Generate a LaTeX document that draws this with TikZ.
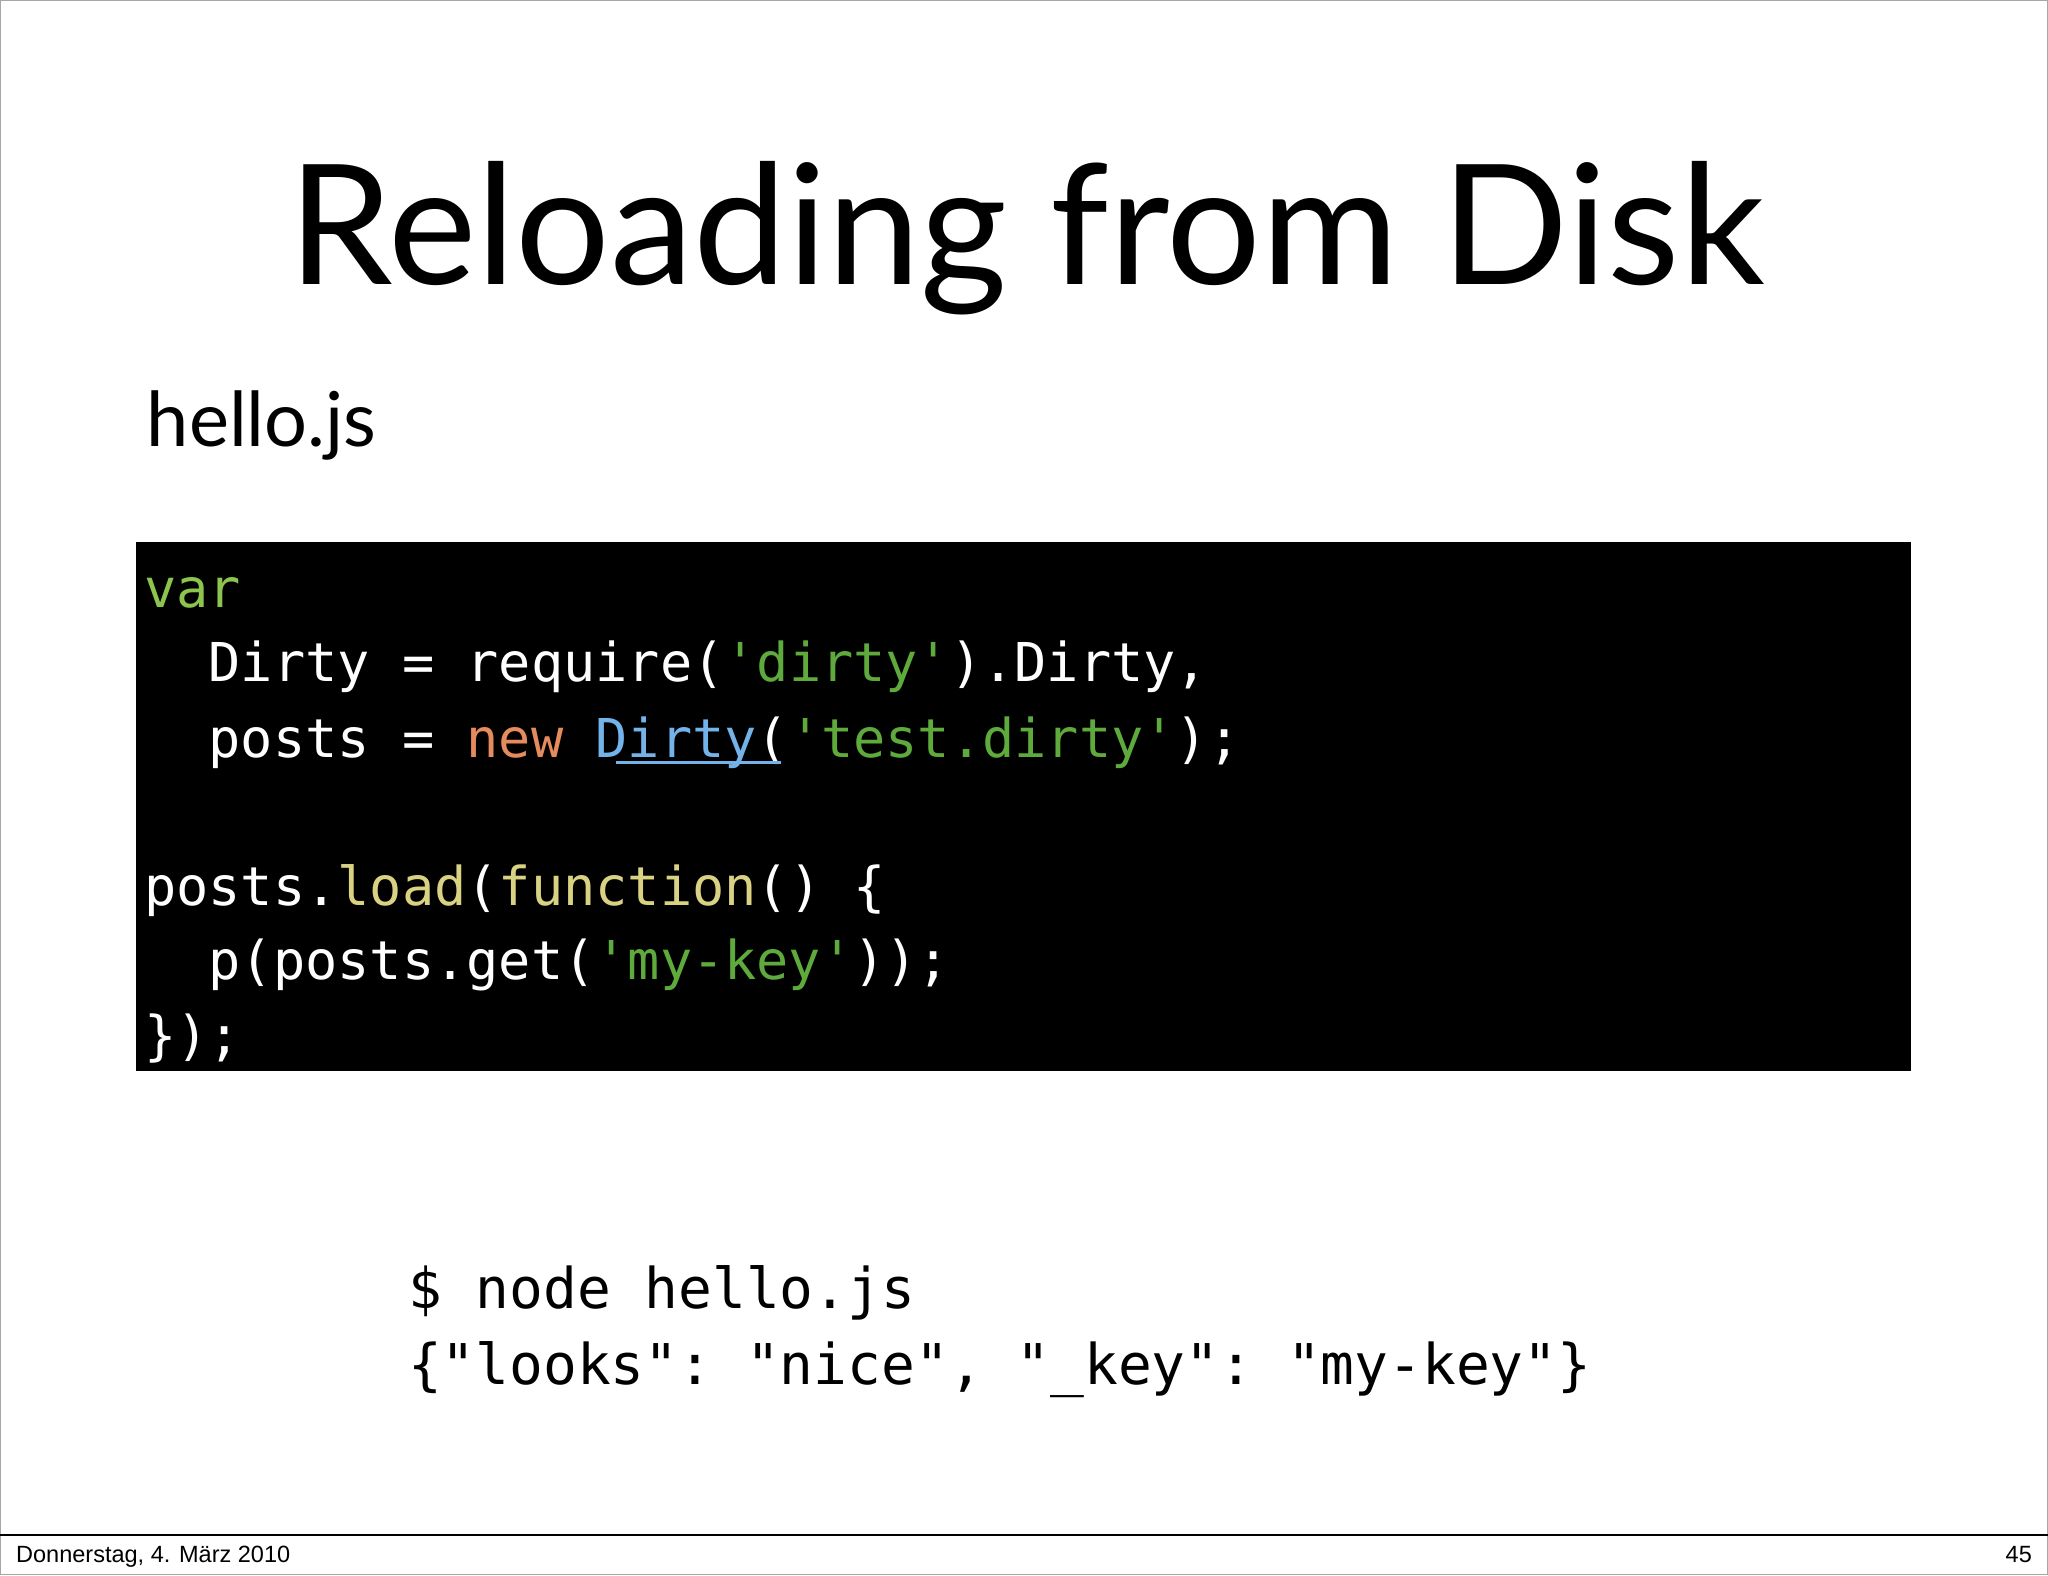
\documentclass[tikz,border=0pt]{standalone}
\usepackage{fontspec}
\setmainfont{Lato}
\setmonofont{DejaVu Sans Mono}
\newfontfamily\footfont{Liberation Sans}
\definecolor{cvar}{HTML}{8DC44E}
\definecolor{cstr}{HTML}{5FAA3C}
\definecolor{cnew}{HTML}{E58B5E}
\definecolor{cblu}{HTML}{74B2EA}
\definecolor{cfun}{HTML}{D9D283}
\begin{document}
\begin{tikzpicture}[x=0.5pt,y=-0.5pt,
  code/.style={anchor=base west,inner sep=0,text=white,font=\ttfamily\fontsize{20.5}{24}\selectfont},
  term/.style={anchor=base west,inner sep=0,text=black,font=\ttfamily\fontsize{21.5}{26}\selectfont}]
\useasboundingbox (0,0) rectangle (1568,1206);
\draw[gray!70,line width=0.6pt] (0.5,0.5) rectangle (1567.5,1205.5);
\node (title) at (786,182) {\fontsize{64}{70}\selectfont Reloading from Disk};
\node[anchor=base west,inner sep=0] (file) at (112,342) {\fontsize{29}{32}\selectfont hello.js};
\fill[black] (104,415) rectangle (1463,820);
\node[code] (l1) at (110,465) {\textcolor{cvar}{var}};
\node[code] (l2) at (110,522) {\ \ Dirty = require(\textcolor{cstr}{'dirty'}).Dirty,};
\node[code] (l3) at (110,580) {\ \ posts = \textcolor{cnew}{new} \textcolor{cblu}{Dirty}(\textcolor{cstr}{'test.dirty'});};
\draw[cblu,line width=1.2pt] (472,584) -- (598,584);
\node[code] (l5) at (110,693) {posts.\textcolor{cfun}{load}(\textcolor{cfun}{function}() \{};
\node[code] (l6) at (110,750) {\ \ p(posts.get(\textcolor{cstr}{'my-key'}));};
\node[code] (l7) at (110,807) {\});};
\node[term] (t1) at (312,1002) {\$ node hello.js};
\node[term] (t2) at (312,1060) {\{"looks": "nice", "\_key": "my-key"\}};
\draw[black,line width=0.6pt] (0,1175) -- (1568,1175);
\node[anchor=base west,inner sep=0,font=\footfont\fontsize{9}{11}\selectfont] (date) at (12,1196) {Donnerstag, 4. März 2010};
\node[anchor=base east,inner sep=0,font=\footfont\fontsize{9}{11}\selectfont] (num) at (1556,1196) {45};
\end{tikzpicture}
\end{document}
